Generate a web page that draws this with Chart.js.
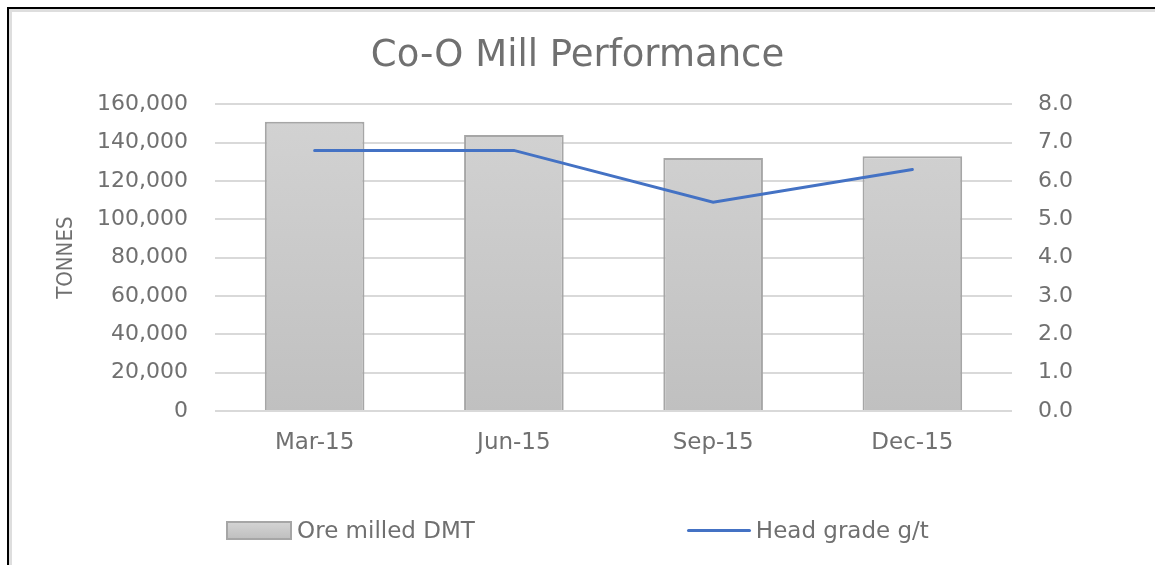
<!DOCTYPE html>
<html>
<head>
<meta charset="utf-8">
<script src="https://cdn.jsdelivr.net/npm/chart.js@4.4.1/dist/chart.umd.min.js"></script>
<style>
    html, body { margin: 0; padding: 0; background: #fff; }
    #wrap { position: relative; width: 1155px; height: 565px; overflow: hidden; }
    #frame {
        position: absolute; left: 7px; top: 7px; right: -4px; bottom: -4px;
        border-top: 2px solid #000; border-left: 2px solid #000;
        box-shadow: inset 3px 3px 0 #dedede;
        pointer-events: none;
    }
    #legend {
        position: absolute; left: 0; top: 516px; width: 1155px;
        display: flex; justify-content: center; gap: 212px;
        font-family: "DejaVu Sans", sans-serif; font-size: 23px; color: #707070;
    }
    .legend-item { display: flex; align-items: center; gap: 5px; height: 28px; }
    .swatch-bar { width: 62px; height: 15px; border: 2px solid #a6a6a6; }
    .swatch-line { width: 64px; height: 3px; border-radius: 2px; }
</style>
</head>
<body>
<div id="wrap">
    <canvas id="millChart" width="1155" height="565"></canvas>
    <div id="frame"></div>
    <div id="legend"></div>
</div>
<script>
// Co-O mill quarterly figures
const categories = ['Mar-15', 'Jun-15', 'Sep-15', 'Dec-15'];
const oreMilled = [151000, 144000, 132000, 133000];
const headGrade = [6.8, 6.8, 5.45, 6.3];

const textColor = '#707070';
const gridColor = '#d9d9d9';
const barBorder = '#a6a6a6';
const lineColor = '#4472c4';

function barFill(context) {
    const chart = context.chart;
    const area = chart.chartArea;
    if (!area) return '#c8c8c8';
    const g = chart.ctx.createLinearGradient(0, area.top, 0, area.bottom);
    g.addColorStop(0, '#d3d3d3');
    g.addColorStop(1, '#c0c0c0');
    return g;
}

const ctx = document.getElementById('millChart');

const chart = new Chart(ctx, {
    type: 'bar',
    data: {
        labels: categories,
        datasets: [
            {
                type: 'line',
                label: 'Head grade g/t',
                data: headGrade,
                yAxisID: 'y1',
                borderColor: lineColor,
                backgroundColor: lineColor,
                borderWidth: 3,
                borderCapStyle: 'round',
                pointRadius: 0,
                tension: 0,
                order: 1
            },
            {
                type: 'bar',
                label: 'Ore milled DMT',
                data: oreMilled,
                yAxisID: 'y',
                backgroundColor: barFill,
                borderColor: barBorder,
                borderWidth: 2,
                categoryPercentage: 1,
                barPercentage: 0.5,
                order: 2
            }
        ]
    },
    options: {
        responsive: false,
        animation: false,
        devicePixelRatio: 1,
        locale: 'en-US',
        layout: { padding: { left: 40, right: 40, top: 10, bottom: 100 } },
        plugins: {
            legend: { display: false },
            tooltip: { enabled: false },
            title: {
                display: true,
                text: 'Co-O Mill Performance',
                color: textColor,
                font: { family: 'DejaVu Sans', size: 37, weight: 'normal' },
                padding: { top: 24, bottom: 26 }
            }
        },
        scales: {
            x: {
                grid: { display: false, drawTicks: false },
                border: { display: false },
                ticks: {
                    color: textColor,
                    padding: 18,
                    font: { family: 'DejaVu Sans', size: 23 }
                },
                afterFit: function (scale) { scale.height = 54; }
            },
            y: {
                position: 'left',
                min: 0,
                max: 160000,
                ticks: {
                    stepSize: 20000,
                    color: textColor,
                    padding: 27,
                    font: { family: 'DejaVu Sans', size: 22 }
                },
                grid: { color: gridColor, lineWidth: 2, drawTicks: false },
                border: { display: false },
                title: {
                    display: true,
                    text: 'TONNES',
                    color: textColor,
                    font: { family: 'DejaVu Sans Condensed', size: 22 },
                    padding: { top: 13, bottom: 0 }
                },
                afterFit: function (scale) { scale.width = 175; }
            },
            y1: {
                position: 'right',
                min: 0,
                max: 8,
                ticks: {
                    stepSize: 1,
                    color: textColor,
                    padding: 26,
                    font: { family: 'DejaVu Sans', size: 22 },
                    callback: function (v) { return v.toFixed(1); }
                },
                grid: { display: false, drawTicks: false },
                border: { display: false },
                afterFit: function (scale) { scale.width = 103; }
            }
        }
    }
});

// legend built from the datasets, bars first like the original
const legendBox = document.getElementById('legend');
chart.data.datasets.slice().reverse().forEach(function (ds) {
    const item = document.createElement('div');
    item.className = 'legend-item';
    const sw = document.createElement('span');
    if (ds.type === 'line') {
        sw.className = 'swatch-line';
        sw.style.background = ds.borderColor;
    } else {
        sw.className = 'swatch-bar';
        sw.style.background = 'linear-gradient(#d3d3d3, #c0c0c0)';
    }
    const label = document.createElement('span');
    label.textContent = ds.label;
    item.appendChild(sw);
    item.appendChild(label);
    legendBox.appendChild(item);
});
</script>
</body>
</html>
